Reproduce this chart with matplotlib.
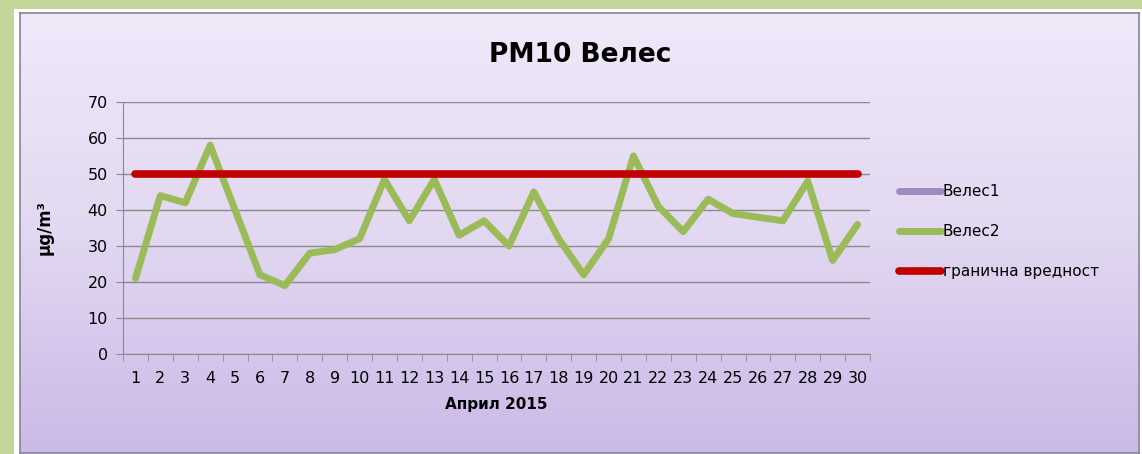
import numpy as np
import matplotlib
matplotlib.use("Agg")
import matplotlib.pyplot as plt
from matplotlib.patches import Rectangle
from matplotlib.colors import LinearSegmentedColormap

days = list(range(1, 31))
veles1 = [np.nan] * 30
veles2 = [21, 44, 42, 58, 40, 22, 19, 28, 29, 32, 48.5, 37, 48.5, 33, 37,
          30, 45, 32, 22, 32, 55, 41, 34, 43, 39, 38, 37, 48, 26, 36]
limit = [50] * 30
yticks = [0, 10, 20, 30, 40, 50, 60, 70]

W, H = 1142, 454
fig = plt.figure(figsize=(W / 100, H / 100), dpi=100)
fig.patch.set_facecolor("#c4d79b")

def fx(x): return x / W
def fy(y): return 1 - y / H

# white inner frame
fig.patches.append(Rectangle((fx(14), 0), 1 - fx(14), fy(9), transform=fig.transFigure,
                             facecolor="white", edgecolor="none", zorder=-5))
# gradient chart area
bg = fig.add_axes([fx(20), 0.002, fx(1139) - fx(20), fy(13) - 0.002])
bg.set_zorder(0.5)
cmap = LinearSegmentedColormap.from_list("g", ["#efe9f9", "#e2d8f1", "#cbb9e7"])
grad = np.linspace(0, 1, 256).reshape(-1, 1)
bg.imshow(grad, aspect="auto", cmap=cmap, extent=[0, 1, 1, 0], interpolation="bilinear")
bg.set_xlim(0, 1); bg.set_ylim(1, 0)
bg.set_xticks([]); bg.set_yticks([])
for s in bg.spines.values():
    s.set_color("#8a8498"); s.set_linewidth(1.2)

ax = fig.add_axes([fx(123), fy(354), fx(870) - fx(123), fy(102) - fy(354)])
ax.set_zorder(2)
ax.patch.set_alpha(0)
ax.plot(days, veles1, color="#9d8ac0", lw=5, solid_capstyle="round", label="Велес1")
ax.plot(days, veles2, color="#9bbb59", lw=5, solid_joinstyle="round",
        solid_capstyle="round", label="Велес2", zorder=3)
ax.plot(days, limit, color="#c00000", lw=5.5, solid_capstyle="round",
        label="гранична вредност", zorder=4)

ax.set_xlim(0.5, 30.5)
ax.set_ylim(0, 70)
ax.set_yticks(yticks)
ax.set_xticks(days)
ax.set_xticks(np.arange(0.5, 31, 1), minor=True)
ax.tick_params(axis="x", which="major", length=0, pad=12, labelsize=11.5)
ax.tick_params(axis="x", which="minor", length=5, color="#8a8a8a", direction="out")
ax.tick_params(axis="y", length=5, color="#8a8a8a", labelsize=11.5, pad=6)
ax.grid(axis="y", color="#8a8a8a", lw=1)
ax.set_axisbelow(True)
for s in ["top", "right"]:
    ax.spines[s].set_visible(False)
for s in ["left", "bottom"]:
    ax.spines[s].set_color("#8a8a8a")

ax.set_xlabel("Април 2015", fontsize=11, fontweight="bold", labelpad=8)
ax.set_ylabel("µg/m³", fontsize=12, fontweight="bold", labelpad=24)

fig.text(fx(580), fy(55), "PM10 Велес", ha="center", va="center",
         fontsize=19, fontweight="bold", zorder=3)

leg = ax.legend(loc="center left", bbox_to_anchor=(1.02, 0.485), frameon=False,
                fontsize=11, handlelength=2.8, handletextpad=0.1, labelspacing=1.65)

fig.savefig("out.png", dpi=100, facecolor=fig.get_facecolor())
